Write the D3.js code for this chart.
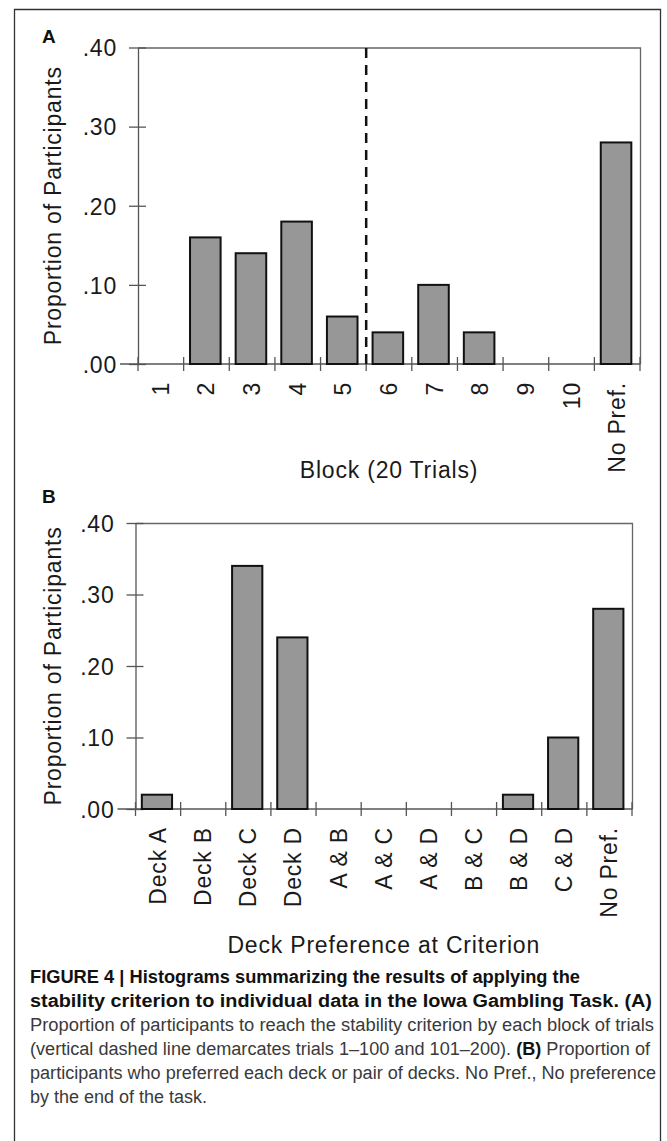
<!DOCTYPE html>
<html>
<head>
<meta charset="utf-8">
<script src="https://cdn.jsdelivr.net/npm/d3@7"></script>
<style>
  body { margin: 0; background: #fff; }
  svg { display: block; }
  text { font-family: "Liberation Sans", Arial, sans-serif; }
</style>
</head>
<body>
<svg width="667" height="1141"></svg>
<script>
// panel A: block in which the stability criterion was reached
const blockLabels = ['1', '2', '3', '4', '5', '6', '7', '8', '9', '10', 'No Pref.'];
const blockValues = [0, .16, .14, .18, .06, .04, .10, .04, 0, 0, .28];

// panel B: deck preference at criterion
const deckLabels = ['Deck A', 'Deck B', 'Deck C', 'Deck D', 'A & B', 'A & C', 'A & D', 'B & C', 'B & D', 'C & D', 'No Pref.'];
const deckValues = [.02, 0, .34, .24, 0, 0, 0, 0, .02, .10, .28];

const yTicks = [0, .10, .20, .30, .40];

const FS = 23, LS = 0.8;

const svg = d3.select('svg');

// outer frame
svg.append('path')
    .attr('d', 'M14.5,1150 V9.5 H660.5 V1150')
    .attr('fill', 'none')
    .attr('stroke', '#333')
    .attr('stroke-width', 1.3);

const fmt = v => d3.format('.2f')(v).replace(/^0/, '');

function panel(opts) {
    const {labels, values, x0, x1, y0, y1, letter, letterY, title, titleY} = opts;
    const g = svg.append('g');

    const scaleX = d3.scaleBand().domain(labels).range([x0, x1]);
    const scaleY = d3.scaleLinear().domain([0, .40]).range([y1, y0]);
    const bw = scaleX.bandwidth();

    // plot box (top and right)
    g.append('path')
        .attr('d', `M${x0},${y0 + .5} H${x1 + .5} V${y1}`)
        .attr('fill', 'none').attr('stroke', '#666').attr('stroke-width', 1.3);

    // y axis
    const axisY = d3.axisLeft(scaleY).tickValues(yTicks).tickFormat(fmt).tickSize(0);
    const axisYG = g.append('g')
        .attr('transform', `translate(${x0},0)`)
        .call(axisY);
    axisYG.select('.domain').attr('stroke', '#555').attr('stroke-width', 1.3);
    axisYG.selectAll('.tick line').attr('x1', -9).attr('x2', 8)
        .attr('stroke', '#555').attr('stroke-width', 1.3);
    axisYG.selectAll('.tick text')
        .attr('x', -21).attr('dy', '0.36em')
        .attr('font-size', FS).attr('letter-spacing', LS)
        .attr('fill', '#1a1a1a').style('font-family', '"Liberation Sans", Arial, sans-serif');

    // x axis with ticks at category boundaries
    const axisXG = g.append('g').attr('transform', `translate(0,${y1})`);
    axisXG.append('line')
        .attr('x1', x0 - 18).attr('x2', x1 + .5)
        .attr('stroke', '#555').attr('stroke-width', 1.3);
    const bounds = labels.map(d => scaleX(d)).concat([x1]);
    axisXG.selectAll('line.tk')
        .data(bounds)
        .enter()
        .append('line')
        .classed('tk', true)
        .attr('x1', d => d).attr('x2', d => d)
        .attr('y1', -7).attr('y2', 7)
        .attr('stroke', '#555').attr('stroke-width', 1.3);
    axisXG.selectAll('text')
        .data(labels)
        .enter()
        .append('text')
        .attr('transform', d => `translate(${scaleX(d) + bw / 2 + 8},18) rotate(-90)`)
        .attr('text-anchor', 'end')
        .attr('font-size', FS).attr('letter-spacing', LS)
        .attr('fill', '#1a1a1a')
        .text(d => d);

    // bars
    const rows = labels.map((d, i) => ({label: d, value: values[i]})).filter(d => d.value > 0);
    g.selectAll('rect.bar')
        .data(rows)
        .enter()
        .append('rect')
        .classed('bar', true)
        .attr('x', d => scaleX(d.label) + bw * .14)
        .attr('width', bw * .67)
        .attr('y', d => scaleY(d.value))
        .attr('height', d => y1 - scaleY(d.value))
        .attr('fill', '#979797')
        .attr('stroke', '#111')
        .attr('stroke-width', 2);

    // y title
    g.append('text')
        .attr('transform', `translate(61,${(y0 + y1) / 2}) rotate(-90)`)
        .attr('text-anchor', 'middle')
        .attr('font-size', FS).attr('letter-spacing', LS)
        .attr('fill', '#1a1a1a')
        .text('Proportion of Participants');

    // x title
    g.append('text')
        .attr('x', (x0 + x1) / 2).attr('y', titleY)
        .attr('text-anchor', 'middle')
        .attr('font-size', FS).attr('letter-spacing', LS)
        .attr('fill', '#1a1a1a')
        .text(title);

    // panel letter
    g.append('text')
        .attr('x', 42).attr('y', letterY)
        .attr('font-size', 19).attr('font-weight', 'bold')
        .attr('fill', '#111')
        .text(letter);

    return {g, scaleX, scaleY};
}

const pA = panel({
    labels: blockLabels, values: blockValues,
    x0: 138, x1: 640, y0: 47.5, y1: 364,
    letter: 'A', letterY: 43, title: 'Block (20 Trials)', titleY: 478
});

// dashed line between blocks 5 and 6 (trials 1-100 / 101-200)
pA.g.append('line')
    .attr('x1', pA.scaleX('6')).attr('x2', pA.scaleX('6'))
    .attr('y1', 48).attr('y2', 364)
    .attr('stroke', '#111').attr('stroke-width', 2.5)
    .attr('stroke-dasharray', '10,7');

panel({
    labels: deckLabels, values: deckValues,
    x0: 135.5, x1: 632, y0: 523, y1: 809,
    letter: 'B', letterY: 503, title: 'Deck Preference at Criterion', titleY: 953
});

// caption
const capX = 30;
const caption = [
    {y: 983, w: 550, parts: [{t: 'FIGURE 4 | Histograms summarizing the results of applying the', b: true}]},
    {y: 1007, w: 622, parts: [{t: 'stability criterion to individual data in the Iowa Gambling Task. (A)', b: true}]},
    {y: 1031, w: 624, parts: [{t: 'Proportion of participants to reach the stability criterion by each block of trials', b: false}]},
    {y: 1055, w: 620, parts: [
        {t: '(vertical dashed line demarcates trials 1\u2013100 and 101\u2013200). ', b: false},
        {t: '(B)', b: true},
        {t: ' Proportion of', b: false}]},
    {y: 1079, w: 626, parts: [{t: 'participants who preferred each deck or pair of decks. No Pref., No preference', b: false}]},
    {y: 1103, w: null, parts: [{t: 'by the end of the task.', b: false}]}
];

const capG = svg.append('g');
caption.forEach(line => {
    const t = capG.append('text')
        .attr('x', capX).attr('y', line.y)
        .attr('font-size', 18);
    if (line.w) t.attr('textLength', line.w).attr('lengthAdjust', 'spacingAndGlyphs');
    line.parts.forEach(p => {
        t.append('tspan')
            .attr('font-weight', p.b ? 'bold' : 'normal')
            .attr('fill', p.b ? '#111' : '#3a3a3a')
            .text(p.t);
    });
});
</script>
</body>
</html>
